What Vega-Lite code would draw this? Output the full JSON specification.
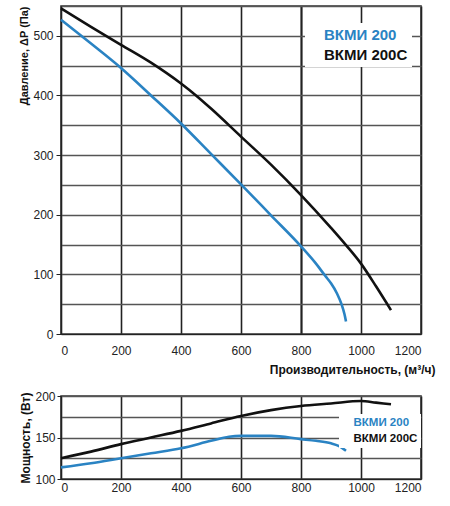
{
  "$schema": "https://vega.github.io/schema/vega-lite/v6.json",
  "padding": {"left": 18, "top": 2, "right": 5, "bottom": 2},
  "config": {
    "font": "Liberation Sans",
    "view": {"stroke": "#333", "strokeWidth": 1.6},
    "axis": {
      "grid": true,
      "gridWidth": 1.6,
      "gridOpacity": 1,
      "labelFont": "Liberation Sans",
      "labelFontSize": 12,
      "labelColor": "#222",
      "titleFont": "Liberation Sans",
      "titleFontWeight": "bold",
      "titleFontSize": 12,
      "titleColor": "#111",
      "domainColor": "#222",
      "tickColor": "#222",
      "format": "d"
    }
  },
  "datasets": {
    "pressure": [
      {"q": 0, "p": 546, "model": "ВКМИ 200С"},
      {"q": 100, "p": 515, "model": "ВКМИ 200С"},
      {"q": 200, "p": 485, "model": "ВКМИ 200С"},
      {"q": 300, "p": 455, "model": "ВКМИ 200С"},
      {"q": 400, "p": 420, "model": "ВКМИ 200С"},
      {"q": 450, "p": 400, "model": "ВКМИ 200С"},
      {"q": 500, "p": 378, "model": "ВКМИ 200С"},
      {"q": 600, "p": 331, "model": "ВКМИ 200С"},
      {"q": 700, "p": 284, "model": "ВКМИ 200С"},
      {"q": 800, "p": 233, "model": "ВКМИ 200С"},
      {"q": 900, "p": 178, "model": "ВКМИ 200С"},
      {"q": 950, "p": 149, "model": "ВКМИ 200С"},
      {"q": 1000, "p": 118, "model": "ВКМИ 200С"},
      {"q": 1050, "p": 80, "model": "ВКМИ 200С"},
      {"q": 1100, "p": 40, "model": "ВКМИ 200С"},
      {"q": 0, "p": 527, "model": "ВКМИ 200"},
      {"q": 100, "p": 487, "model": "ВКМИ 200"},
      {"q": 200, "p": 446, "model": "ВКМИ 200"},
      {"q": 300, "p": 400, "model": "ВКМИ 200"},
      {"q": 400, "p": 353, "model": "ВКМИ 200"},
      {"q": 500, "p": 302, "model": "ВКМИ 200"},
      {"q": 600, "p": 251, "model": "ВКМИ 200"},
      {"q": 700, "p": 199, "model": "ВКМИ 200"},
      {"q": 800, "p": 147, "model": "ВКМИ 200"},
      {"q": 850, "p": 118, "model": "ВКМИ 200"},
      {"q": 880, "p": 98, "model": "ВКМИ 200"},
      {"q": 900, "p": 85, "model": "ВКМИ 200"},
      {"q": 920, "p": 68, "model": "ВКМИ 200"},
      {"q": 935, "p": 50, "model": "ВКМИ 200"},
      {"q": 945, "p": 33, "model": "ВКМИ 200"},
      {"q": 950, "p": 21, "model": "ВКМИ 200"}
    ],
    "power": [
      {"q": 0, "w": 125, "model": "ВКМИ 200С"},
      {"q": 100, "w": 133, "model": "ВКМИ 200С"},
      {"q": 200, "w": 142, "model": "ВКМИ 200С"},
      {"q": 300, "w": 150, "model": "ВКМИ 200С"},
      {"q": 400, "w": 158, "model": "ВКМИ 200С"},
      {"q": 500, "w": 167, "model": "ВКМИ 200С"},
      {"q": 600, "w": 176, "model": "ВКМИ 200С"},
      {"q": 700, "w": 183, "model": "ВКМИ 200С"},
      {"q": 800, "w": 188, "model": "ВКМИ 200С"},
      {"q": 900, "w": 191, "model": "ВКМИ 200С"},
      {"q": 1000, "w": 194, "model": "ВКМИ 200С"},
      {"q": 1050, "w": 192, "model": "ВКМИ 200С"},
      {"q": 1100, "w": 190, "model": "ВКМИ 200С"},
      {"q": 0, "w": 114, "model": "ВКМИ 200"},
      {"q": 100, "w": 119, "model": "ВКМИ 200"},
      {"q": 200, "w": 125, "model": "ВКМИ 200"},
      {"q": 300, "w": 131, "model": "ВКМИ 200"},
      {"q": 400, "w": 137, "model": "ВКМИ 200"},
      {"q": 500, "w": 146, "model": "ВКМИ 200"},
      {"q": 560, "w": 151, "model": "ВКМИ 200"},
      {"q": 600, "w": 152, "model": "ВКМИ 200"},
      {"q": 700, "w": 152, "model": "ВКМИ 200"},
      {"q": 800, "w": 148, "model": "ВКМИ 200"},
      {"q": 850, "w": 146, "model": "ВКМИ 200"},
      {"q": 900, "w": 143, "model": "ВКМИ 200"},
      {"q": 925, "w": 140, "model": "ВКМИ 200"},
      {"q": 950, "w": 134, "model": "ВКМИ 200"}
    ]
  },
  "vconcat": [
    {
      "width": 360,
      "height": 328,
      "data": {"name": "pressure"},
      "mark": {"type": "line", "strokeWidth": 2.6, "interpolate": "monotone"},
      "encoding": {
        "x": {
          "field": "q",
          "type": "quantitative",
          "scale": {"domain": [0, 1200], "nice": false},
          "axis": {
            "values": [0, 200, 400, 600, 800, 1000, 1200],
            "title": "Производительность, (м³/ч)",
            "titleAlign": "right",
            "titleX": 374,
            "titlePadding": 8,
            "tickSize": 0,
            "labelPadding": 11,
            "gridColor": "#222",
            "gridWidth": {"condition": {"test": "datum.value === 800", "value": 2.2}, "value": 1.6}
          }
        },
        "y": {
          "field": "p",
          "type": "quantitative",
          "scale": {"domain": [0, 550], "nice": false},
          "axis": {
            "values": [0, 50, 100, 150, 200, 250, 300, 350, 400, 450, 500, 550],
            "labelExpr": "datum.value % 100 === 0 ? datum.label : ''",
            "tickOpacity": {"condition": {"test": "datum.value % 100 === 0", "value": 1}, "value": 0},
            "tickSize": 5,
            "labelPadding": 3,
            "title": "Давление, ΔP (Па)",
            "titleFontSize": 11,
            "titleAnchor": "end",
            "titlePadding": 3,
            "gridColor": "#555"
          }
        },
        "color": {
          "field": "model",
          "type": "nominal",
          "scale": {"domain": ["ВКМИ 200", "ВКМИ 200С"], "range": ["#2a83c3", "#111111"]},
          "legend": {
            "orient": "none",
            "legendX": 244,
            "legendY": 17,
            "title": null,
            "fillColor": "white",
            "padding": 4,
            "symbolSize": 0,
            "symbolOpacity": 0,
            "symbolStrokeWidth": 0,
            "labelOffset": 0,
            "labelFont": "Liberation Sans",
            "labelFontSize": 15,
            "labelFontWeight": "bold",
            "rowPadding": 4,
            "encode": {
              "labels": {
                "update": {
                  "fill": {"signal": "datum.label === 'ВКМИ 200' ? '#2a83c3' : '#111111'"}
                }
              }
            }
          }
        }
      }
    },
    {
      "width": 360,
      "height": 83,
      "data": {"name": "power"},
      "mark": {"type": "line", "strokeWidth": 2.6, "interpolate": "monotone"},
      "encoding": {
        "x": {
          "field": "q",
          "type": "quantitative",
          "scale": {"domain": [0, 1200], "nice": false},
          "axis": {
            "values": [0, 200, 400, 600, 800, 1000, 1200],
            "title": null,
            "tickSize": 0,
            "labelPadding": 3,
            "gridColor": "#222"
          }
        },
        "y": {
          "field": "w",
          "type": "quantitative",
          "scale": {"domain": [100, 200], "nice": false},
          "axis": {
            "values": [100, 125, 150, 175, 200],
            "labelExpr": "datum.value % 50 === 0 ? datum.label : ''",
            "tickOpacity": {"condition": {"test": "datum.value % 50 === 0", "value": 1}, "value": 0},
            "tickSize": 4,
            "labelPadding": 2,
            "title": "Мощность, (Вт)",
            "titlePadding": 2,
            "gridColor": "#555"
          }
        },
        "color": {
          "field": "model",
          "type": "nominal",
          "scale": {"domain": ["ВКМИ 200", "ВКМИ 200С"], "range": ["#2a83c3", "#111111"]},
          "legend": {
            "orient": "none",
            "legendX": 278,
            "legendY": 18,
            "title": null,
            "fillColor": "white",
            "padding": 3,
            "symbolSize": 0,
            "symbolOpacity": 0,
            "symbolStrokeWidth": 0,
            "labelOffset": 0,
            "labelFont": "Liberation Sans",
            "labelFontSize": 11.5,
            "labelFontWeight": "bold",
            "rowPadding": 3,
            "encode": {
              "labels": {
                "update": {
                  "fill": {"signal": "datum.label === 'ВКМИ 200' ? '#2a83c3' : '#111111'"}
                }
              }
            }
          }
        }
      }
    }
  ],
  "spacing": 13,
  "resolve": {"legend": {"color": "independent"}}
}
